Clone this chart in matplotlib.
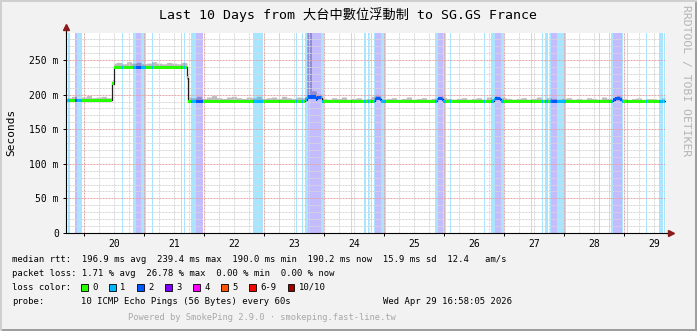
import numpy as np
import matplotlib
matplotlib.use("Agg")
import matplotlib.pyplot as plt
from matplotlib.patches import Rectangle

W, H = 697, 331
MONO = "DejaVu Sans Mono"

# ---------------- data ----------------
title = "Last 10 Days from 大台中數位浮動制 to SG.GS France"
window_start, window_end = 19.707, 29.707      # day of April (fractional)
data_start, data_end = 19.717, 29.683

day_labels = ["20", "21", "22", "23", "24", "25", "26", "27", "28", "29"]
day_label_pos = [20.5, 21.5, 22.5, 23.5, 24.5, 25.5, 26.5, 27.5, 28.5, 29.5]
y_ticks = [0, 50, 100, 150, 200, 250]
y_tick_labels = ["0", "50 m", "100 m", "150 m", "200 m", "250 m"]

# median rtt (ms), step changes at these times
median_t = [19.717, 20.475, 20.492, 21.717, 21.733, 23.683, 23.717, 23.867, 23.883,
            23.967, 24.850, 24.867, 24.933, 24.950, 25.883, 25.900, 25.967, 25.983,
            26.833, 26.850, 26.933, 26.950, 28.817, 28.850, 28.933, 28.967]
median_ms = [191.5, 216, 239.5, 224, 190.5, 192.5, 196.5, 193.5, 195.5,
             190.5, 193, 194.5, 193, 190.5, 193, 194.5, 193, 190.5,
             193, 194.5, 193, 190.5, 192.5, 194, 192.5, 190.2]

# smoke height above median (ms), 2-hour slots over the 10-day window
smoke_ms = [4, 6, 3, 5, 7, 4, 5, 6, 4,
            6, 7, 5, 8, 6, 7, 5, 6, 8, 6, 5, 7, 6, 5, 7, 6,
            5, 7, 4, 6, 8, 5, 4, 6, 7, 5, 4, 6, 5, 7, 4, 5, 6, 4, 7, 5, 4, 6, 5,
            110, 9,
            5, 4, 3, 5, 4, 6, 3, 4, 5, 3,
            4, 7, 5, 3, 4, 5, 3, 4, 6, 3,
            4, 5, 3, 4, 3, 5, 4, 3, 4, 5,
            3, 4, 5, 3, 6, 4, 3, 5, 4, 3,
            4, 5, 3, 4, 6, 3, 5, 4, 3, 4,
            5, 3, 4, 3, 5, 4, 3, 6, 4, 3,
            5, 4, 3, 4, 5, 3, 4, 4, 3, 5]

# packet loss periods (start, end in days, pings lost of 10)
loss_start = [19.733, 19.850, 19.883, 20.633, 20.817, 20.867, 20.950, 21.133, 21.617,
              21.667, 21.783, 21.867, 22.817, 23.250, 23.533, 23.633, 23.683, 23.733,
              23.950, 24.450, 24.667, 24.733, 24.783, 24.833, 24.850, 24.950, 25.850,
              25.900, 25.983, 26.100, 26.667, 26.783, 26.850, 26.950, 27.450, 27.633,
              27.683, 27.767, 27.783, 27.883, 28.583, 28.750, 28.783, 28.817, 28.967,
              29.050, 29.367, 29.583, 29.667]
loss_end = [19.767, 19.883, 19.967, 20.650, 20.867, 20.950, 21.033, 21.150, 21.633,
            21.683, 21.867, 21.983, 22.983, 23.267, 23.550, 23.650, 23.733, 23.950,
            24.000, 24.467, 24.700, 24.750, 24.800, 24.850, 24.950, 25.033, 25.900,
            25.983, 26.033, 26.117, 26.683, 26.850, 26.950, 27.000, 27.467, 27.650,
            27.733, 27.783, 27.883, 28.033, 28.600, 28.767, 28.817, 28.967, 28.983,
            29.067, 29.383, 29.650, 29.683]
loss_level = [1, 2, 1, 1, 1, 2, 1, 1, 1,
              1, 1, 2, 1, 1, 1, 1, 1, 2,
              1, 1, 1, 1, 1, 1, 2, 1, 1,
              2, 1, 1, 1, 1, 2, 1, 1, 1,
              1, 1, 2, 1, 1, 1, 1, 2, 1,
              1, 1, 1, 1]

loss_legend_labels = ["0", "1", "2", "3", "4", "5", "6-9", "10/10"]
loss_legend_colors = ["#26ff00", "#00b8ff", "#0059ff", "#7e00ff",
                      "#ff00ff", "#ff5500", "#ff0000", "#a10000"]

rtt_line = "median rtt:  196.9 ms avg  239.4 ms max  190.0 ms min  190.2 ms now  15.9 ms sd  12.4   am/s"
loss_line = "packet loss: 1.71 % avg  26.78 % max  0.00 % min  0.00 % now"
probe_text = "10 ICMP Echo Pings (56 Bytes) every 60s"
date_text = "Wed Apr 29 16:58:05 2026"
powered_text = "Powered by SmokePing 2.9.0 · smokeping.fast-line.tw"

# ---------------- styles ----------------
line_color = {1: "#00b8ff", 2: "#0059ff"}
band_color = {1: ("#00b8ff", 0.34), 2: ("#2a10ff", 0.28)}

fig = plt.figure(figsize=(W / 100, H / 100), dpi=100, facecolor="#f2f2f2")


def fx(x):
    return x / W


def fy(y):
    return 1 - y / H


# frame shading
fig.add_artist(Rectangle((0, 0), 1, 2 / H, transform=fig.transFigure, fc="#9e9e9e", lw=0))
fig.add_artist(Rectangle((1 - 2 / W, 0), 2 / W, 1, transform=fig.transFigure, fc="#9e9e9e", lw=0))
fig.add_artist(Rectangle((0, 1 - 2 / H), 1, 2 / H, transform=fig.transFigure, fc="#cfcfcf", lw=0))
fig.add_artist(Rectangle((0, 0), 2 / W, 1, transform=fig.transFigure, fc="#cfcfcf", lw=0))

ax = fig.add_axes([fx(66.4), fy(233), 600 / W, 200 / H])
ax.set_facecolor("white")
ax.set_xlim(window_start, window_end)
ax.set_ylim(0, 289)

mt = np.array(median_t + [data_end])
mv = np.array(median_ms + [median_ms[-1]])


def med_at(t):
    idx = np.searchsorted(mt, t, side="right") - 1
    idx = np.clip(idx, 0, len(mv) - 1)
    return mv[idx]


# smoke
tt = np.linspace(data_start, data_end, 4000)
slot = np.clip(((tt - window_start) / (window_end - window_start) * len(smoke_ms)).astype(int),
               0, len(smoke_ms) - 1)
sm = np.array(smoke_ms, dtype=float)[slot]
mm = med_at(tt)
ax.fill_between(tt, mm, mm + sm, step="post", color="#bcbcbc", lw=0, zorder=1)

# loss bands
for s, e, lv in zip(loss_start, loss_end, loss_level):
    c, a = band_color[lv]
    ax.axvspan(s, e, color=c, alpha=a, lw=0, zorder=2)

# grid
gkw = dict(lw=0.72, ls=(0, (2, 1)), zorder=3)
for v in np.arange(10, 289, 10):
    if v % 50:
        ax.axhline(v, color="#d6d6d6", **gkw)
for v in np.arange(19.75, window_end, 0.25):
    if abs(v - round(v)) > 1e-6:
        ax.axvline(v, color="#d6d6d6", **gkw)
for v in np.arange(50, 289, 50):
    ax.axhline(v, color="#e2a6a6", **gkw)
for v in range(20, 30):
    ax.axvline(v, color="#e2a6a6", **gkw)

# median
ax.step(mt, mv, where="post", color="#202020", lw=0.9, zorder=4)
hw = 2.3
ax.fill_between(mt, mv - hw, mv + hw, step="post", color="#26ff00", lw=0, zorder=5)
for s, e, lv in zip(loss_start, loss_end, loss_level):
    ts = np.linspace(s, e, 30)
    ms = med_at(ts)
    ax.fill_between(ts, ms - hw, ms + hw, step="post", color=line_color[lv], lw=0, zorder=6)

# axes
for sp in ("top", "right"):
    ax.spines[sp].set_visible(False)
for sp in ("left", "bottom"):
    ax.spines[sp].set_color("black")
    ax.spines[sp].set_linewidth(0.8)
    ax.spines[sp].set_zorder(7)

ax.set_yticks(y_ticks, y_tick_labels, family=MONO, fontsize=7)
ax.tick_params(axis="y", length=2, width=0.7, pad=3.5)
ax.set_xticks(range(20, 30), [""] * 10)
ax.set_xticks(day_label_pos, day_labels, minor=True, family=MONO, fontsize=7)
ax.tick_params(axis="x", which="major", length=2, width=0.7)
ax.tick_params(axis="x", which="minor", length=0, pad=4.5)

# axis extensions and arrows
ax.plot([window_start, window_start], [289, 297], color="black", lw=0.8, clip_on=False, zorder=7)
ax.plot([window_end, window_end + 0.04], [0, 0], color="black", lw=0.8, clip_on=False, zorder=7)
ax.plot([window_start], [298], marker="^", color="#8b1a1a", ms=4, clip_on=False, zorder=8)
ax.plot([window_end + 0.07], [0], marker=">", color="#8b1a1a", ms=4, clip_on=False, zorder=8)

# texts
fig.text(fx(348), fy(15), title, ha="center", va="center", fontsize=9.5,
         family=[MONO, "Noto Sans CJK TC"])
fig.text(fx(11), fy(132), "Seconds", rotation=90, ha="center", va="center",
         fontsize=8, family=MONO)
fig.text(fx(686), fy(5), "RRDTOOL / TOBI OETIKER", rotation=270, ha="center", va="top",
         fontsize=8.2, family=MONO, color="#b4b4b4")

fs = 6.4
cw = 5.34
fig.text(fx(12), fy(259), rtt_line, ha="left", va="center", fontsize=fs, family=MONO)
fig.text(fx(12), fy(273), loss_line, ha="left", va="center", fontsize=fs, family=MONO)
fig.text(fx(12), fy(287), "loss color:", ha="left", va="center", fontsize=fs, family=MONO)
bx = 81
for lab, col in zip(loss_legend_labels, loss_legend_colors):
    fig.add_artist(Rectangle((fx(bx), fy(290.5)), 6.5 / W, 7 / H, transform=fig.transFigure,
                             fc=col, ec="black", lw=0.6))
    fig.text(fx(bx + 11), fy(287), lab, ha="left", va="center", fontsize=fs, family=MONO)
    bx += 11 + len(lab) * cw + 11.7
fig.text(fx(12), fy(301), "probe:", ha="left", va="center", fontsize=fs, family=MONO)
fig.text(fx(81), fy(301), probe_text, ha="left", va="center", fontsize=fs, family=MONO)
fig.text(fx(512), fy(301), date_text, ha="right", va="center", fontsize=fs, family=MONO)
fig.text(fx(128), fy(318), powered_text, ha="left", va="center", fontsize=6.3,
         family=MONO, color="#a8a8a8")

fig.savefig("out.png", dpi=100, facecolor=fig.get_facecolor())
